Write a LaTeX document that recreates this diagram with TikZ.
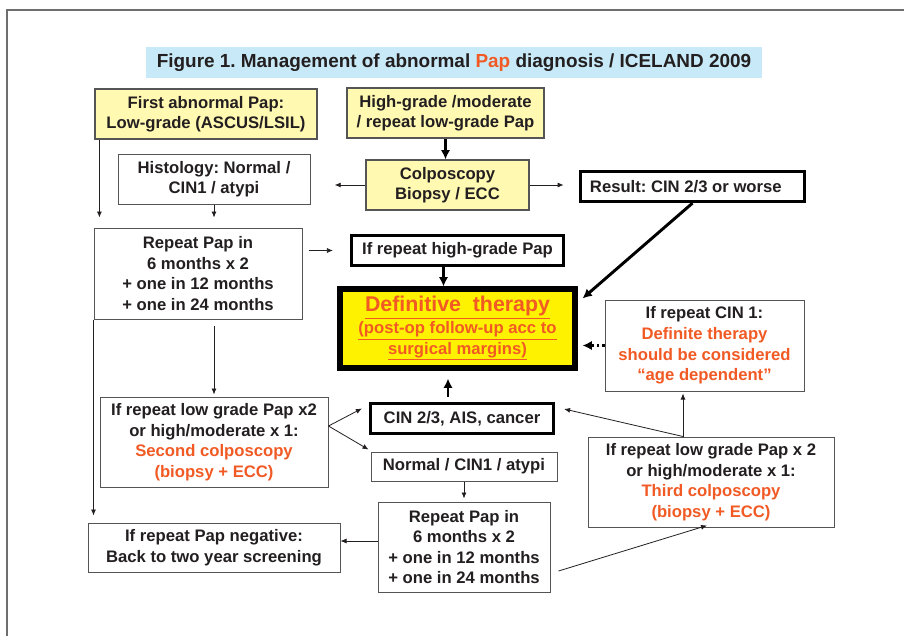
\documentclass[tikz,border=0pt]{standalone}
\usepackage{fontspec}
\setmainfont{Liberation Sans}
\usepackage{xcolor}
\usepackage{tikz}
\usetikzlibrary{calc,arrows.meta,positioning}
\definecolor{cText}{RGB}{35,31,32}
\definecolor{cOrg}{RGB}{241,90,36}
\definecolor{cPale}{RGB}{255,249,178}
\definecolor{cGold}{RGB}{255,242,0}
\definecolor{cSky}{RGB}{200,234,248}
\definecolor{cEdge}{RGB}{85,85,85}
\definecolor{cFrame}{RGB}{110,110,110}
\frenchspacing

\begin{document}
\begin{tikzpicture}[x=0.75pt,y=-0.75pt,
  every node/.style={font=\bfseries\fontsize{12.5}{15.4}\selectfont,text=cText,align=center,inner sep=0pt},
  sz/.style 2 args={minimum width=#1*0.75pt,minimum height=#2*0.75pt},
  pale/.style={draw=cEdge,line width=0.9pt,fill=cPale},
  plain/.style={draw=cEdge,line width=0.75pt,fill=white},
  heavy/.style={draw=black,line width=2.4pt,fill=white},
  arr/.style={-{Latex[length=4.5pt,width=3.8pt]},line width=0.6pt,cText},
  bigarr/.style={-{Latex[length=7pt,width=7pt]},line width=2.2pt,black}]
  \useasboundingbox (0,0) rectangle (904,636);
  \fill[white] (0,0) rectangle (904,636);
  \draw[cFrame,line width=1.5pt] (7,636) -- (7,10) -- (904,10);

  \node[fill=cSky,sz={616}{31},font=\bfseries\fontsize{14.2}{18}\selectfont] (title) at (454,62.5)
    {Figure 1. Management of abnormal \textcolor{cOrg}{Pap} diagnosis / ICELAND 2009};

  % first colposcopy round
  \node[pale,sz={222}{50}] (first) at (206,114) {First abnormal Pap:\\Low-grade (ASCUS/LSIL)};
  \node[pale,sz={197}{50}] (high) at (445.5,113) {High-grade /moderate\\/ repeat low-grade Pap};
  \node[pale,sz={163}{50}] (colpo) at (447.5,185) {Colposcopy\\Biopsy / ECC};
  \node[plain,sz={192}{50}] (histo) at (214,179) {Histology: Normal /\\CIN1 / atypi};
  \node[heavy,sz={224}{30}] (result) at (692.5,186.5) {Result: CIN 2/3 or worse\hspace{10pt}};
  \node[plain,sz={208}{91}] (rep1) at (198,273.5) {Repeat Pap in\\6 months x 2\\+ one in 12 months\\+ one in 24 months};
  \node[heavy,sz={212}{30}] (ifhigh) at (457.5,250.5) {If repeat high-grade Pap};
  \node[draw=black,line width=3.8pt,fill=cGold,sz={235}{79},text=cOrg] (def) at (457.5,328.5)
    {{\fontsize{16}{21}\selectfont\underline{Definitive\ \ therapy}}\\[1pt]
     \underline{(post-op follow-up acc to}\\\underline{surgical margins)}};
  \node[plain,sz={199}{91}] (cin1) at (704.5,345.5)
    {If repeat CIN 1:\\\textcolor{cOrg}{Definite therapy}\\\textcolor{cOrg}{should be considered}\\\textcolor{cOrg}{“age dependent”}};

  % second and third colposcopy
  \node[plain,sz={228}{90}] (second) at (214,442)
    {If repeat low grade Pap x2\\or high/moderate x 1:\\\textcolor{cOrg}{Second colposcopy}\\\textcolor{cOrg}{(biopsy + ECC)}};
  \node[heavy,sz={183}{30}] (cin23) at (462,418.5) {CIN 2/3, AIS, cancer};
  \node[plain,sz={186}{29}] (normal) at (464,466.5) {Normal / CIN1 / atypi};
  \node[plain,sz={246}{90}] (third) at (711,482)
    {If repeat low grade Pap x 2\\or high/moderate x 1:\\\textcolor{cOrg}{Third colposcopy}\\\textcolor{cOrg}{(biopsy + ECC)}};
  \node[plain,sz={172}{90}] (rep2) at (464,547) {Repeat Pap in\\6 months x 2\\+ one in 12 months\\+ one in 24 months};
  \node[plain,sz={252}{49}] (neg) at (214,547.5) {If repeat Pap negative:\\Back to two year screening};

  \coordinate (cl) at ([xshift=-23pt]colpo.west);
  \coordinate (cr) at ([xshift=25.5pt]colpo.east);
  \coordinate (fork) at ([yshift=12pt]second.east);
  \coordinate (tk) at ([xshift=-21pt]third.north);

  \draw[bigarr] (high.south) -- (high.south |- colpo.north);
  \draw[arr] (colpo.west) -- (cl);
  \draw[arr] (colpo.east) -- (cr);
  \draw[arr,shorten >=7.5pt] ([xshift=3.75pt]first.south west) -- ([xshift=3.75pt]first.south west |- rep1.north);
  \draw[arr,shorten >=7.5pt] (histo.south) -- (histo.south |- rep1.north);
  \draw[arr,shorten <=4.5pt,shorten >=12.75pt] (rep1.east |- ifhigh.west) -- (ifhigh.west);
  \draw[bigarr] ([xshift=-10.5pt]ifhigh.south) -- ([xshift=-10.5pt]def.north);
  \draw[bigarr] (result.south) -- ([shift={(5,12)}]def.north east);
  \draw[bigarr,dash pattern=on 2.2pt off 1.6pt,shorten >=3.75pt] (cin1.west) -- (cin1.west -| def.east);
  \draw[bigarr,shorten <=3.75pt,shorten >=6pt] ([xshift=-10.5pt]cin23.north) -- ([xshift=-10.5pt]cin23.north |- def.south);
  \draw[arr,shorten <=4.5pt,shorten >=1.5pt] (second.north |- rep1.south) -- (second.north);
  \draw[arr,shorten >=5.25pt] (rep1.south west) -- (rep1.south west |- neg.north);
  \draw[arr] (fork) -- ([shift={(-7,-10)}]cin23.west);
  \draw[arr] (fork) -- ([shift={(-2,-2)}]normal.north west);
  \draw[arr,shorten >=2.25pt] (normal.south) -- (rep2.north);
  \draw[arr] ([yshift=4.5pt]rep2.west) -- ([yshift=4.5pt]rep2.west -| neg.east);
  \draw[arr] ([shift={(8,24)}]rep2.east) -- ([shift={(-4,-2)}]third.south);
  \draw[arr] (tk) -- ([shift={(9,-9.5)}]cin23.east);
  \draw[arr,shorten >=1.5pt] (tk) -- (tk |- cin1.south);
\end{tikzpicture}
\end{document}
